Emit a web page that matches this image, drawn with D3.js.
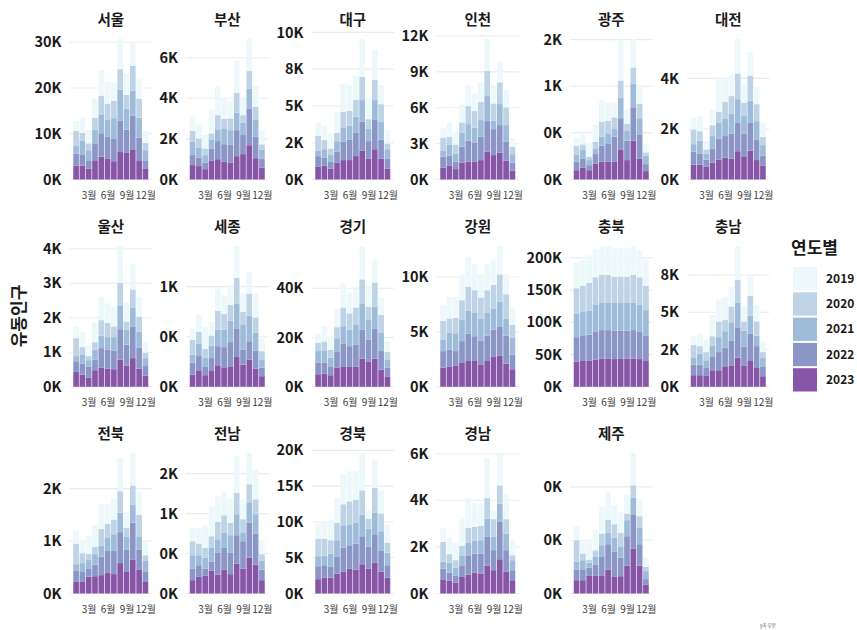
<!DOCTYPE html>
<html><head><meta charset="utf-8">
<script src="https://cdn.jsdelivr.net/npm/d3@7"></script>
<style>
body{margin:0;background:#fff;}
svg{font-family:"Noto Sans CJK KR","Noto Sans",sans-serif;}
</style></head>
<body><svg id="c" width="857" height="630"></svg>
<script>
// ---------------- data ----------------
const regions = ["서울","부산","대구","인천","광주","대전","울산","세종","경기","강원","충북","충남","전북","전남","경북","경남","제주"];
const years = ["2019","2020","2021","2022","2023"];
const months = [1,2,3,4,5,6,7,8,9,10,11,12];
const monthTicks = [3,6,9,12];
const monthTickLabels = ["3월","6월","9월","12월"];
const yTitle = "유동인구";
const legendTitle = "연도별";
const caption = "y축 부분";

// each region: one row per year (2019..2023), 12 monthly values
const seoul = [
 [2200,3500,2900,4100,5600,4800,4000,6600,4700,5200,4300,2600],
 [3300,1700,1500,2600,4200,3600,3800,4500,3000,5400,4200,1600],
 [1600,3000,2200,3000,4000,3700,4400,6800,4600,5500,4400,2200],
 [2700,2500,1800,3700,5100,4800,5000,6800,5100,7300,4900,1900],
 [3000,3000,2400,4200,5000,4500,4000,6000,5800,6600,4200,2300]];
const busan = [
 [690,690,660,1180,1400,1020,870,1580,910,1560,1010,700],
 [540,460,330,300,700,460,580,990,370,900,660,250],
 [660,490,380,440,580,780,700,860,610,960,830,460],
 [490,410,310,590,890,870,910,1280,940,1810,1050,430],
 [710,660,510,940,1000,870,820,1150,1250,1690,1050,590]];
const daegu = [
 [910,970,1020,1430,1890,1750,1650,2570,1460,2040,1300,910],
 [1020,620,450,560,1060,1020,1140,1580,630,1360,1200,390],
 [360,560,460,730,980,930,1090,1480,860,1360,1200,630],
 [730,570,450,720,1240,1400,1580,1970,1180,1980,1290,680],
 [860,930,750,1160,1320,1320,1590,1950,1430,2060,1430,750]];
const incheon = [
 [780,1200,1060,1510,1760,1480,1620,2680,1540,1730,1450,750],
 [1090,640,750,860,1510,1390,1530,2090,1450,1810,1480,620],
 [500,920,700,1170,1390,1230,1400,2100,700,1760,1400,720],
 [900,870,610,1320,1760,1620,1950,2560,2170,2320,1590,670],
 [1000,1140,870,1420,1480,1480,1620,2320,2040,2230,1560,730]];
const gwangju = [
 [90,100,144,180,234,193,158,438,157,305,204,89],
 [100,61,36,71,161,137,118,183,76,176,154,36],
 [72,90,54,61,97,107,90,222,104,251,180,90],
 [90,97,54,101,172,198,269,341,208,359,251,75],
 [100,129,100,172,190,190,190,316,208,416,226,90]];
const daejeon = [
 [460,600,330,620,1320,920,830,1360,760,950,690,550],
 [580,380,160,430,440,660,710,1020,530,990,670,330],
 [300,500,240,490,620,700,770,940,690,860,750,420],
 [510,440,290,560,830,860,990,1120,900,1120,790,400],
 [590,590,500,670,790,860,830,1120,920,1140,770,540]];
const ulsan = [
 [330,430,330,560,680,570,570,1060,550,750,580,300],
 [520,210,120,220,450,410,310,650,240,520,430,160],
 [150,270,180,280,360,360,390,690,430,550,470,230],
 [310,320,320,310,560,550,540,880,600,920,600,280],
 [430,350,270,480,560,530,510,790,620,830,530,320]];
const sejong = [
 [109,168,214,138,224,188,199,314,185,218,238,129],
 [149,122,90,99,188,155,158,257,132,221,155,82],
 [79,122,92,126,165,175,214,248,244,255,175,83],
 [119,149,82,129,191,208,248,287,152,184,181,85],
 [122,158,116,158,215,188,198,297,221,271,182,106]];
const gyeonggi = [
 [3800,6200,5500,7300,9700,8500,7700,13400,8400,9000,7100,4300],
 [3400,3600,3200,4500,7600,6700,7100,10000,5400,9800,7000,3000],
 [4800,5100,3500,5600,7200,6600,7900,10500,7900,9000,7600,3400],
 [4600,4300,3600,6400,9100,8200,9100,11700,8900,12100,7500,3700],
 [5100,5400,4700,7700,8300,8300,8100,11400,10300,11400,7000,4000]];
const gangwon = [
 [1420,1960,1920,2350,2680,2430,2110,2400,2320,2560,1870,1540],
 [1740,1320,1390,1810,2200,2020,1900,2020,2140,2470,2200,1170],
 [1030,1540,1630,1920,2110,2170,2010,2110,1930,2260,1560,1540],
 [1500,1560,1350,1990,2470,2260,2170,2320,2500,2650,2560,1320],
 [1750,1810,1900,2170,2350,2350,2050,2350,2710,2860,2110,1600]];
const chungbuk = [
 [40000,40000,43000,44000,44000,44000,44000,44000,44000,44000,42000,41000],
 [39000,41000,43000,42000,44000,44000,41000,41000,41000,44000,43000,38000],
 [37000,36000,37000,43000,42000,42000,43000,43000,43000,42000,42000,40000],
 [38000,40000,40000,43000,44000,44000,44000,43000,43000,44000,42000,39000],
 [39000,40000,41000,42000,44000,44000,43000,44000,44000,44000,43000,40000]];
const chungnam = [
 [620,860,820,1450,1490,1560,1310,2260,1090,1440,1110,710],
 [890,510,550,620,1060,750,1060,1510,620,1330,950,400],
 [440,730,520,770,1000,1110,1220,1670,1060,1220,710,600],
 [710,710,530,890,1220,1290,1670,2040,1310,1770,1470,620],
 [780,780,730,1110,1110,1330,1440,1950,1400,1780,1260,710]];
const jeonbuk = [
 [240,230,350,420,470,370,400,640,310,620,440,270],
 [390,190,110,140,320,260,280,410,160,360,410,110],
 [130,170,170,200,210,260,320,370,250,350,250,210],
 [210,190,160,220,350,420,440,590,430,700,380,190],
 [220,220,320,330,350,390,370,580,410,650,460,220]];
const jeonnam = [
 [171,196,283,375,321,292,305,459,246,391,371,183],
 [175,146,121,142,217,221,154,266,171,225,187,84],
 [166,125,137,179,171,187,221,263,104,254,242,108],
 [146,146,92,113,270,271,266,354,341,438,387,133],
 [167,208,221,283,238,300,242,375,313,450,363,167]];
const gyeongbuk = [
 [2100,2190,2790,3540,4180,4190,3950,5210,1060,3960,3260,2550],
 [2460,2370,1860,2420,2940,3210,3210,3400,1400,3480,2460,1400],
 [1400,1350,1860,2320,3110,2930,2930,3020,2560,2980,2750,1770],
 [1810,1760,1530,2330,3400,3300,3630,3910,3070,4000,2930,1760],
 [2000,2190,2190,2790,3020,3440,3350,4090,3440,4280,3020,2190]];
const gyeongnam = [
 [600,710,740,1170,1300,1030,910,1710,340,1390,1050,650],
 [850,360,320,400,620,600,610,890,760,780,620,210],
 [290,430,350,430,580,550,580,780,570,790,710,430],
 [460,360,290,500,800,820,850,1240,860,1600,930,430],
 [610,540,470,710,810,890,860,1190,1000,1470,930,570]];
const jeju = [
 [52,44,69,78,100,104,71,79,71,121,64,37],
 [81,25,12,25,44,50,51,52,25,47,44,16],
 [29,34,18,28,44,42,53,41,60,62,61,30],
 [40,41,31,43,71,95,94,69,111,128,81,20],
 [50,50,66,66,66,90,62,65,104,169,104,34]];

const regionValues = [seoul,busan,daegu,incheon,gwangju,daejeon,ulsan,sejong,gyeonggi,gangwon,chungbuk,chungnam,jeonbuk,jeonnam,gyeongbuk,gyeongnam,jeju];

const yTicks = [
 [0,10000,20000,30000],[0,2000,4000,6000],[0,2500,5000,7500,10000],[0,3000,6000,9000,12000],
 [0,500,1000,1500],[0,2000,4000],[0,1000,2000,3000,4000],[0,500,1000],[0,20000,40000],
 [0,5000,10000],[0,50000,100000,150000,200000],[0,2500,5000,7500],[0,1000,2000],
 [0,500,1000,1500],[0,5000,10000,15000,20000],[0,2000,4000,6000],[0,200,400]];

const colors = ["#EDF8FB","#BFD3E6","#9EBCDA","#8C96C6","#8856A7"];

// ---------------- layout ----------------
const colX = [69.5,186,311.5,436.5,570,687];
const rowBase = [179.5,386.8,593.5];
const panelW = 82.5;
const dataH = 140.5;
const nCol = 6;

const svg = d3.select("#c");
const color = d3.scaleOrdinal().domain(years).range(colors);
const stackKeys = years.slice().reverse(); // 2023 at bottom
const stack = d3.stack().keys(stackKeys);

function fmtK(v){
  const q = v/1000;
  let r = Math.round(q);
  if (Math.abs(q - Math.trunc(q)) === 0.5) r = 2*Math.round(q/2);
  return r + "K";
}

regions.forEach((name, i) => {
  const col = i % nCol, row = Math.floor(i / nCol);
  const x0 = colX[col], base = rowBase[row];
  const vals = regionValues[i];
  const table = months.map((m, mi) => {
    const o = {month: m};
    years.forEach((y, yi) => o[y] = vals[yi][mi]);
    return o;
  });
  const series = stack(table);
  const maxV = d3.max(series[series.length-1], d => d[1]);
  const x = d3.scaleLinear().domain([0.55-0.595, 12.45+0.595]).range([x0, x0+panelW]);
  const y = d3.scaleLinear().domain([0, maxV]).range([base, base - dataH]);
  const g = svg.append("g");

  // grid
  g.selectAll("line.grid").data(yTicks[i]).join("line")
    .attr("x1", x0).attr("x2", x0+panelW)
    .attr("y1", d => y(d)).attr("y2", d => y(d))
    .attr("stroke", "#ebebeb").attr("stroke-width", 1.1);

  // bars
  g.selectAll("g.s").data(series).join("g")
    .attr("fill", d => color(d.key))
    .selectAll("rect").data(d => d).join("rect")
      .attr("x", d => x(d.data.month - 0.45))
      .attr("width", d => x(d.data.month + 0.45) - x(d.data.month - 0.45))
      .attr("y", d => y(d[1]))
      .attr("height", d => y(d[0]) - y(d[1]));

  // y axis
  const ya = g.append("g").attr("transform", `translate(${x0},0)`)
    .call(d3.axisLeft(y).tickValues(yTicks[i]).tickFormat(fmtK).tickSize(0).tickPadding(8));
  ya.select(".domain").remove();
  ya.selectAll("text").attr("font-size", 14.5).attr("font-weight", "bold").attr("fill", "#1a1a1a")
    .attr("font-family", "'Noto Sans CJK KR',sans-serif");

  // x axis
  const xa = g.append("g").attr("transform", `translate(0,${base + 12.5})`)
    .call(d3.axisBottom(x).tickValues(monthTicks).tickFormat((d, k) => monthTickLabels[k]).tickSize(0).tickPadding(0));
  xa.select(".domain").remove();
  xa.selectAll("text").attr("font-size", 10).attr("fill", "#3a3a3a")
    .attr("font-family", "'Noto Sans CJK KR',sans-serif");

  // strip title
  g.append("text").attr("x", x0 + panelW/2).attr("y", base - 155)
    .attr("text-anchor", "middle").attr("font-size", 14.5).attr("font-weight", "bold")
    .attr("fill", "#1a1a1a").text(name);
});

// y title
svg.append("text").attr("transform", "translate(25,316) rotate(-90)")
  .attr("text-anchor", "middle").attr("font-size", 17).attr("font-weight", "bold")
  .attr("fill", "#1a1a1a").text(yTitle);

// legend
const lg = svg.append("g");
lg.append("text").attr("x", 791).attr("y", 254).attr("font-size", 17).attr("font-weight", "bold")
  .attr("fill", "#1a1a1a").text(legendTitle);
years.forEach((yr, k) => {
  const yy = 267 + k * 25.3;
  lg.append("rect").attr("x", 793).attr("y", yy).attr("width", 24).attr("height", 23.3)
    .attr("fill", color(yr));
  lg.append("text").attr("x", 826).attr("y", yy + 11.6).attr("dy", "0.35em")
    .attr("font-size", 12).attr("font-weight", "bold").attr("fill", "#1a1a1a").text(yr);
});

// caption
svg.append("text").attr("x", 768).attr("y", 627).attr("text-anchor", "middle")
  .attr("font-size", 4.5).attr("fill", "#555").text(caption);
</script></body></html>
